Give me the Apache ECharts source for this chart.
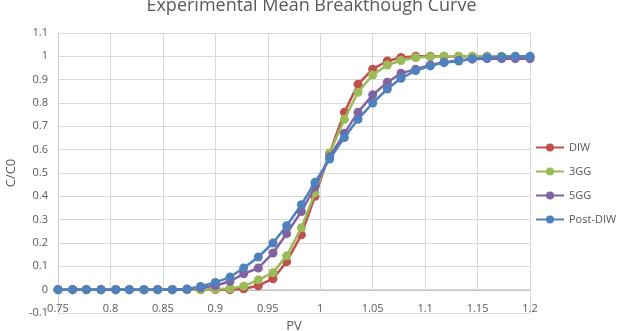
<!DOCTYPE html>
<html>
<head>
<meta charset="utf-8">
<script src="https://cdn.jsdelivr.net/npm/echarts@6/dist/echarts.min.js"></script>
<style>
  * { margin: 0; padding: 0; }
  #chart { width: 623px; height: 331px; background: #fff; }
</style>
</head>
<body>
<div id="chart"></div>
<script>
  // PV 值（横轴）
  const pv = [0.750, 0.764, 0.777, 0.791, 0.805, 0.818, 0.832, 0.845, 0.859, 0.873,
    0.886, 0.900, 0.914, 0.927, 0.941, 0.955, 0.968, 0.982, 0.995, 1.009,
    1.023, 1.036, 1.050, 1.064, 1.077, 1.091, 1.105, 1.118, 1.132, 1.145,
    1.159, 1.173, 1.186, 1.200];

  const diw = [0, 0, 0, 0, 0, 0, 0, 0, 0, 0,
    0, 0, 0, 0.004, 0.017, 0.047, 0.12, 0.235, 0.40, 0.585,
    0.76, 0.88, 0.945, 0.98, 0.995, 1.0, 1.0, 1.0, 1.0, 1.0,
    1.0, 0.998, 0.995, 0.995];

  const gg3 = [0, 0, 0, 0, 0, 0, 0, 0, 0, 0,
    0, 0.002, 0.005, 0.015, 0.042, 0.073, 0.145, 0.265, 0.415, 0.585,
    0.73, 0.846, 0.92, 0.963, 0.982, 0.995, 0.998, 1.0, 1.0, 1.0,
    1.0, 1.0, 1.0, 1.0];

  const gg5 = [0, 0, 0, 0, 0, 0, 0, 0, 0, 0.002,
    0.008, 0.017, 0.036, 0.068, 0.093, 0.157, 0.24, 0.335, 0.44, 0.57,
    0.67, 0.76, 0.835, 0.889, 0.927, 0.945, 0.963, 0.975, 0.982, 0.988,
    0.99, 0.99, 0.99, 0.99];

  const postDiw = [0, 0, 0, 0, 0, 0, 0, 0, 0, 0.003,
    0.014, 0.031, 0.054, 0.093, 0.14, 0.2, 0.274, 0.364, 0.46, 0.56,
    0.652, 0.73, 0.80, 0.86, 0.906, 0.939, 0.959, 0.973, 0.98, 0.99,
    0.995, 0.998, 1.0, 1.0];

  const seriesNames = ['DIW', '3GG', '5GG', 'Post-DIW'];
  const seriesColors = ['#C0504D', '#9BBB59', '#8064A2', '#4F81BD'];
  const seriesValues = [diw, gg3, gg5, postDiw];

  const textColor = '#595959';
  const gridColor = '#D9D9D9';
  const fontFamily = 'Open Sans, sans-serif';

  const chart = echarts.init(document.getElementById('chart'));

  const option = {
    animation: false,
    title: {
      text: 'Experimental Mean Breakthough Curve',
      left: 'center',
      top: -8,
      textStyle: { color: textColor, fontSize: 18, fontWeight: 'normal', fontFamily: fontFamily },
    },
    // grid 0: 整个绘图区 (-0.1 ~ 1.1)；grid 1: 0 以上的竖向网格线和横轴
    grid: [
      { left: 58, right: 93, top: 33, bottom: 18, outerBoundsMode: 'none' },
      { left: 58, right: 93, top: 33, bottom: 41, outerBoundsMode: 'none' },
    ],
    legend: {
      orient: 'vertical',
      left: 530,
      top: 137,
      itemWidth: 28,
      itemHeight: 10,
      itemGap: 13,
      data: seriesNames,
      textStyle: { color: textColor, fontSize: 11, fontFamily: fontFamily },
    },
    xAxis: [
      {
        gridIndex: 0,
        type: 'value',
        min: 0.75,
        max: 1.2,
        interval: 0.05,
        show: false,
      },
      {
        gridIndex: 1,
        type: 'value',
        min: 0.75,
        max: 1.2,
        interval: 0.05,
        name: 'PV',
        nameLocation: 'middle',
        nameGap: 30,
        nameTextStyle: { color: textColor, fontSize: 13, fontFamily: fontFamily },
        axisLine: { onZero: false, lineStyle: { color: '#BFBFBF' } },
        axisTick: { show: false },
        axisLabel: {
          margin: 13,
          color: textColor,
          fontSize: 11,
          fontFamily: fontFamily,
          formatter: (v) => String(Math.round(v * 100) / 100),
        },
        splitLine: { show: true, lineStyle: { color: gridColor } },
      },
    ],
    yAxis: [
      {
        gridIndex: 0,
        type: 'value',
        min: -0.1,
        max: 1.1,
        interval: 0.1,
        name: 'C/C0',
        nameLocation: 'middle',
        nameGap: 37,
        nameTextStyle: { color: textColor, fontSize: 13, fontFamily: fontFamily },
        axisLine: { show: true, onZero: false, lineStyle: { color: '#D0D0D0' } },
        axisTick: { show: false },
        axisLabel: {
          margin: 10,
          color: textColor,
          fontSize: 11,
          fontFamily: fontFamily,
          formatter: (v) => String(Math.round(v * 10) / 10),
        },
        splitLine: { show: true, lineStyle: { color: gridColor } },
      },
      {
        // 右侧边框线
        gridIndex: 0,
        type: 'value',
        min: -0.1,
        max: 1.1,
        position: 'right',
        axisLine: { show: true, onZero: false, lineStyle: { color: gridColor } },
        axisTick: { show: false },
        axisLabel: { show: false },
        splitLine: { show: false },
      },
      {
        gridIndex: 1,
        type: 'value',
        min: 0,
        max: 1.1,
        show: false,
      },
    ],
    series: seriesNames.map((name, i) => ({
      name: name,
      type: 'line',
      xAxisIndex: 0,
      yAxisIndex: 0,
      data: pv.map((x, j) => [x, seriesValues[i][j]]),
      symbol: 'circle',
      symbolSize: 9,
      showAllSymbol: true,
      color: seriesColors[i],
      lineStyle: { width: 2.5, color: seriesColors[i] },
      itemStyle: { color: seriesColors[i] },
      z: 2 + i,
    })),
  };

  chart.setOption(option);
</script>
</body>
</html>
